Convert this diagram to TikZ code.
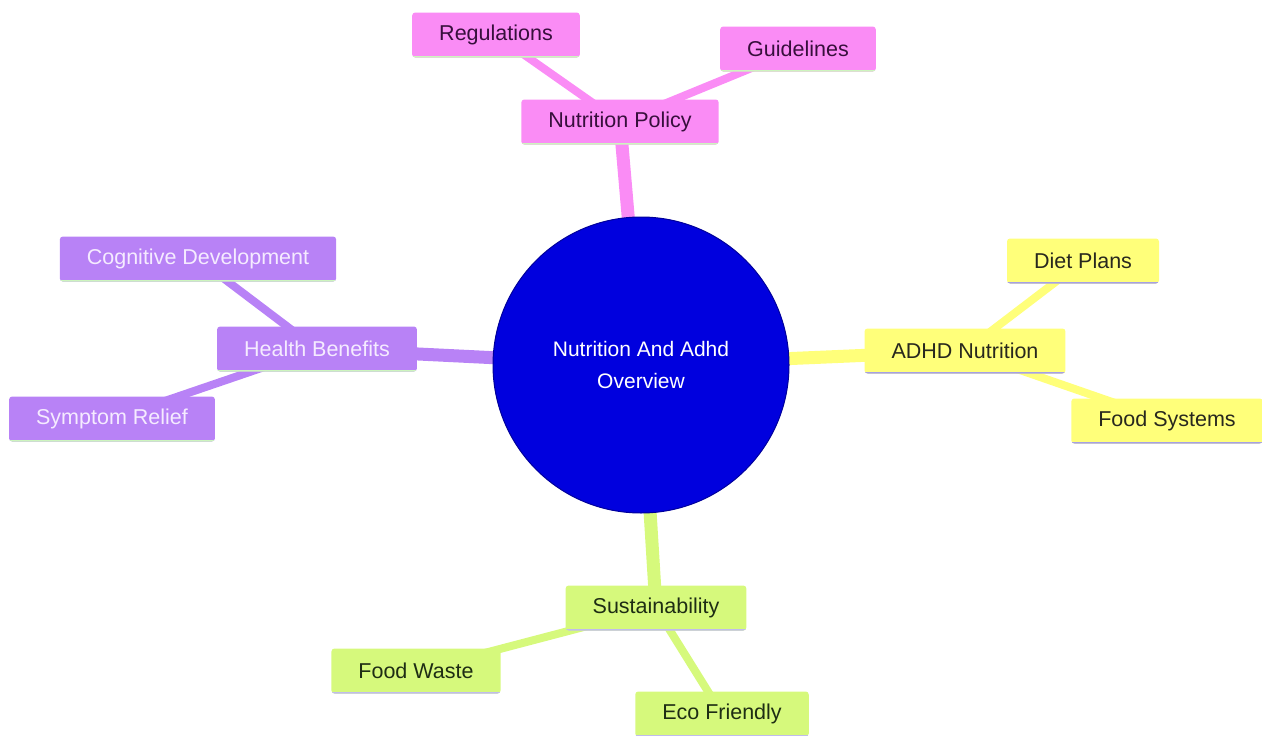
\documentclass[tikz,border=0pt]{standalone}
\usepackage{fontspec}
\setmainfont{Liberation Sans}
\usetikzlibrary{backgrounds}

\definecolor{policypink}{RGB}{250,140,245}
\definecolor{healthpurple}{RGB}{184,130,246}
\definecolor{adhdyellow}{RGB}{255,255,122}
\definecolor{sustgreen}{RGB}{214,249,124}
\definecolor{coreblue}{RGB}{0,0,222}
\definecolor{lineleaf}{RGB}{205,245,190}
\definecolor{linelav}{RGB}{165,160,230}

\begin{document}
\begin{tikzpicture}[x=1pt, y=-1pt,
        box/.style={rounded corners=3pt, minimum height=45pt, inner xsep=27pt,
            font=\fontsize{21.5}{24}\selectfont},
        underline/.style={path picture={\draw[#1, line width=3pt]
            (path picture bounding box.south west) -- (path picture bounding box.south east);}},
        policy/.style={box, fill=policypink, text={rgb,255:red,55;green,15;blue,60}, underline=lineleaf},
        health/.style={box, fill=healthpurple, text={rgb,255:red,245;green,235;blue,255}, underline=lineleaf},
        adhd/.style={box, fill=adhdyellow, text={rgb,255:red,40;green,40;blue,30}, underline=linelav},
        sust/.style={box, fill=sustgreen, text={rgb,255:red,30;green,45;blue,20}, underline=linelav!70!white},
        trunk/.style={line width=13pt},
        twig/.style={line width=8pt},
    ]
    \useasboundingbox (0,0) rectangle (1262,736);

    \node (core) [circle, minimum size=296pt, fill=coreblue, draw=coreblue!70!black, line width=1pt,
        text=white, align=center, font=\fontsize{21}{32}\selectfont] at (641,365) {Nutrition And Adhd\\Overview};

    \node (policy) [policy] at (620,122) {Nutrition Policy};
    \node (regul) [policy] at (496,35) {Regulations};
    \node (guide) [policy] at (798,49) {Guidelines};

    \node (health) [health] at (317,349) {Health Benefits};
    \node (cogdev) [health] at (198,259) {Cognitive Development};
    \node (relief) [health] at (112,419) {Symptom Relief};

    \node (adhd) [adhd] at (965,351) {ADHD Nutrition};
    \node (diet) [adhd] at (1083,261) {Diet Plans};
    \node (foodsys) [adhd] at (1167,421) {Food Systems};

    \node (sust) [sust] at (656,608) {Sustainability};
    \node (waste) [sust] at (416,671) {Food Waste};
    \node (eco) [sust] at (722,714) {Eco Friendly};

    \begin{scope}[on background layer]
        \draw [trunk, policypink] (core.center) -- (policy.center);
        \draw [trunk, healthpurple] (core.center) -- (health.center);
        \draw [trunk, adhdyellow] (core.center) -- (adhd.center);
        \draw [trunk, sustgreen] (core.center) -- (sust.center);
        \draw [twig, policypink] (policy.center) -- (regul.center) (policy.center) -- (guide.center);
        \draw [twig, healthpurple] (health.center) -- (cogdev.center) (health.center) -- (relief.center);
        \draw [twig, adhdyellow] (adhd.center) -- (diet.center) (adhd.center) -- (foodsys.center);
        \draw [twig, sustgreen] (sust.center) -- (waste.center) (sust.center) -- (eco.center);
    \end{scope}
\end{tikzpicture}
\end{document}
